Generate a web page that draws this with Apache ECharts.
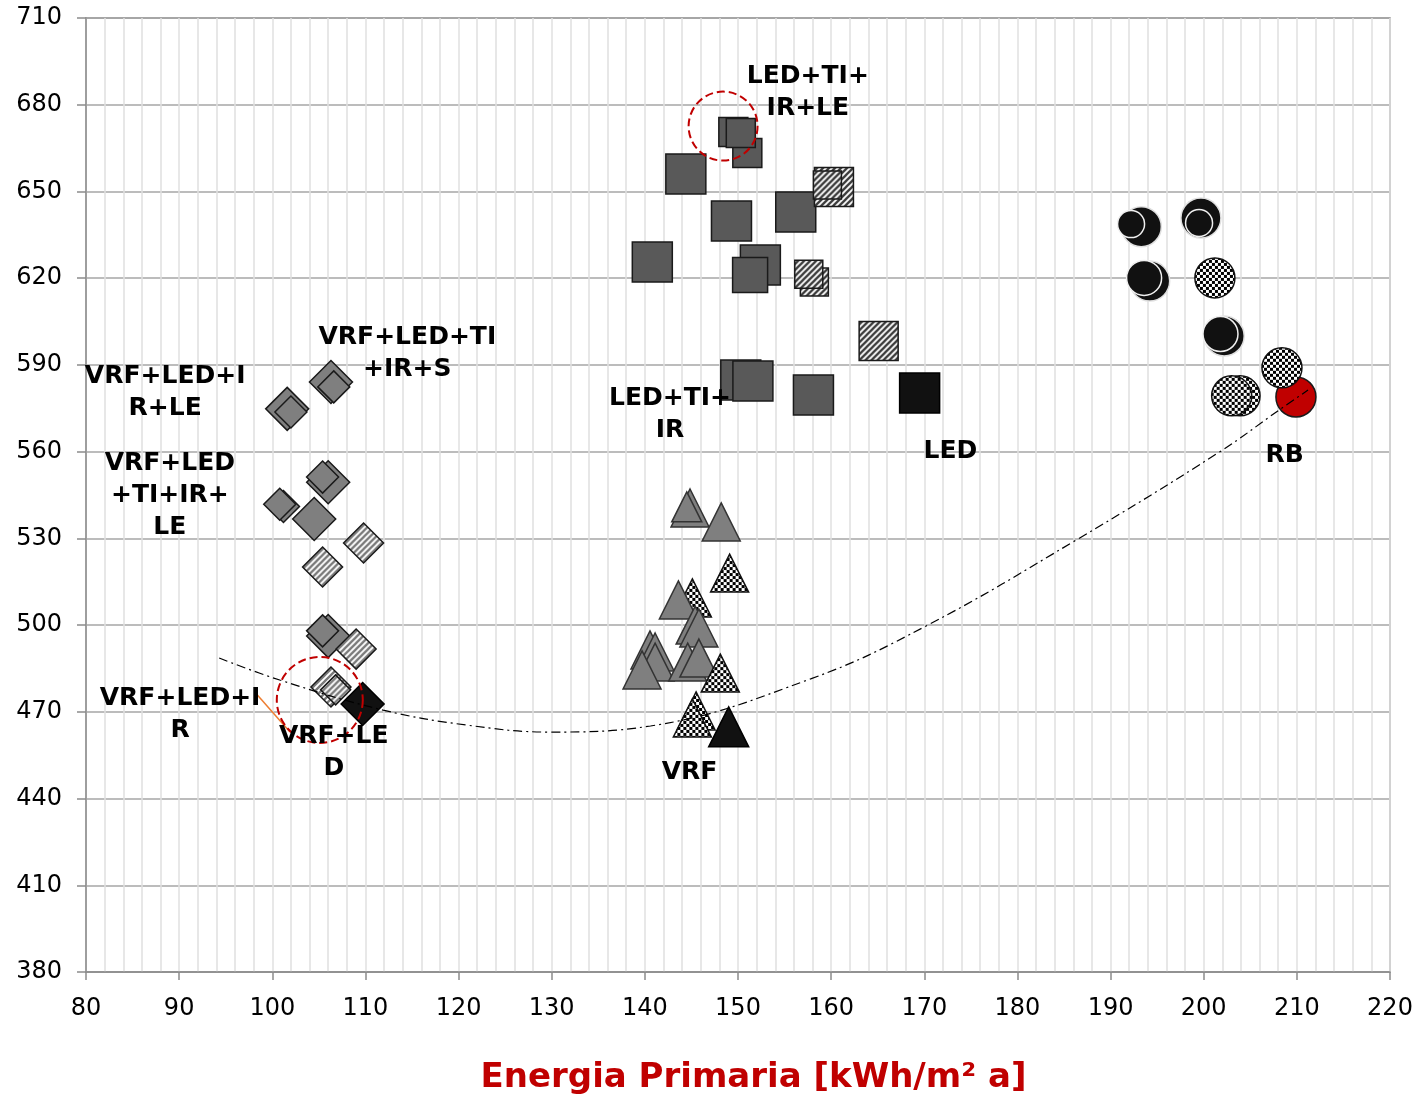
<!DOCTYPE html>
<html>
<head>
<meta charset="utf-8">
<script src="https://cdn.jsdelivr.net/npm/echarts@6/dist/echarts.min.js"></script>
<style>
  html, body { margin: 0; padding: 0; background: #fff; }
  #chart { width: 1426px; height: 1100px; }
</style>
</head>
<body>
<div id="chart"></div>
<script>
// ---- Axis ticks ----
const xTicks = [80, 90, 100, 110, 120, 130, 140, 150, 160, 170, 180, 190, 200, 210, 220];
const yTicks = [380, 410, 440, 470, 500, 530, 560, 590, 620, 650, 680, 710];

// ---- Squares: LED variants [energia primaria, y] ----
const sqDarkSmall = [[151.0, 663.3], [149.5, 670.6], [150.3, 670.2]];
const sqDark = [[144.4, 656.0], [149.3, 639.8], [156.2, 642.9], [140.8, 625.6], [152.4, 624.6], [150.3, 584.8], [151.6, 584.4], [158.1, 579.6]];
const sqDarkMid = [[151.3, 621.1]];
const sqHatch = [[160.3, 651.5], [165.1, 598.3]];
const sqHatchSmall = [[159.6, 652.2], [158.2, 618.7], [157.6, 621.4]];
const sqBlack = [[169.5, 580.3]];

// ---- Diamonds: VRF+LED variants ----
const dmGray = [[106.3, 584.1], [101.6, 574.8], [106.0, 549.4], [104.5, 536.7], [106.0, 496.2]];
const dmGraySmall = [[106.6, 582.4], [102.0, 573.7], [105.4, 551.2], [101.2, 541.0], [100.8, 541.8], [105.4, 498.0]];
const dmHatch = [[109.8, 528.4], [105.4, 520.1], [109.0, 491.7], [106.3, 478.6]];
const dmHatchSmall = [[106.8, 477.6]];
const dmBlack = [[109.7, 472.7]];

// ---- Triangles: VRF variants ----
const triCheckBack = [[145.1, 509.4]];
const triGray = [[144.85, 540.5], [148.2, 535.7], [143.6, 508.7], [145.4, 500.0], [145.8, 499.0], [140.55, 491.4], [141.1, 490.7], [141.1, 487.2], [139.7, 484.5], [144.6, 487.2], [145.8, 488.6]];
const triGraySmall = [[144.5, 540.9]];
const triCheck = [[149.1, 518.0], [148.1, 483.4], [145.5, 470.3], [145.1, 467.9]];
const triBlack = [[149.0, 464.8]];

// ---- Circles: RB variants ----
const ciBlack = [[193.3, 637.8], [199.7, 640.8], [194.2, 619.0], [202.2, 600.0]];
const ciBlackRingSmall = [[192.2, 638.7], [199.5, 639.1]];
const ciBlackRing = [[193.6, 620.1], [201.8, 600.7]];
const ciRed = [[209.9, 578.9]];
const ciCheck = [[201.2, 620.1], [203.9, 579.3], [203.0, 579.3], [208.4, 589.0]];

// ---- Trend curve ----
const trend = [[94.3, 488.6], [100.8, 481.0], [111.9, 470.6], [120.9, 465.4], [129.8, 463.0], [140.6, 465.1], [157.8, 481.4], [170.2, 499.7], [186.3, 529.4], [201.7, 559.9], [208.1, 574.4], [211.2, 581.3]];

// ---- Highlight rings and leader ----
const ringTop = [[148.4, 672.6]];
const ringBottom = [[105.1, 474.1]];
const leader = [[98.4, 475.8], [101.9, 463.0]];

// ---- Group labels ----
const labelTexts = ['LED+TI+\nIR+LE', 'VRF+LED+TI\n+IR+S', 'VRF+LED+I\nR+LE', 'LED+TI+\nIR', 'LED', 'RB', 'VRF+LED\n+TI+IR+\nLE', 'VRF+LED+I\nR', 'VRF+LE\nD', 'VRF'];
const labelX = [157.5, 114.5, 88.5, 142.7, 172.8, 208.7, 89.0, 90.1, 106.6, 144.8];
const labelY = [684.4, 593.8, 580.3, 572.7, 559.9, 558.5, 544.7, 469.0, 455.8, 448.9];

// ---- Fill patterns (symbols are scaled by size/2, so patterns are counter-scaled) ----
function stripeCanvas(fg, size, lw) {
  const c = document.createElement('canvas');
  c.width = size; c.height = size;
  const g = c.getContext('2d');
  g.fillStyle = '#fff'; g.fillRect(0, 0, size, size);
  g.strokeStyle = fg; g.lineWidth = lw;
  g.beginPath();
  for (let k = -1; k <= 1; k++) {
    g.moveTo(k * size - 1, size + 1);
    g.lineTo(k * size + size + 1, -1);
  }
  g.stroke();
  return c;
}
function checkerCanvas(cell) {
  const c = document.createElement('canvas');
  c.width = cell * 2; c.height = cell * 2;
  const g = c.getContext('2d');
  g.fillStyle = '#fff'; g.fillRect(0, 0, cell * 2, cell * 2);
  g.fillStyle = '#000';
  g.fillRect(0, 0, cell, cell);
  g.fillRect(cell, cell, cell, cell);
  return c;
}
const hatchDarkImg = stripeCanvas('#3a3a3a', 6, 2.3);
const hatchGrayImg = stripeCanvas('#7a7a7a', 6, 2.3);
const checkerImg = checkerCanvas(3);

function fillFor(fill, size) {
  if (fill instanceof HTMLCanvasElement) {
    const s = 2 / size;
    return { image: fill, repeat: 'repeat', scaleX: s, scaleY: s };
  }
  return fill;
}

function pts(symbol, data, size, fill, border, bw, dashed) {
  return {
    type: 'scatter', symbol: symbol, symbolSize: size, data: data, z: 2,
    itemStyle: {
      color: fillFor(fill, size), borderColor: border,
      borderWidth: bw === undefined ? 1.5 : bw, opacity: 1,
      borderType: dashed ? [8, 4] : 'solid'
    },
    emphasis: { disabled: true }, silent: true
  };
}

const FONT = 'DejaVu Sans';

const series = [
  // diamonds
  pts('diamond', dmGray, 43, '#7f7f7f', '#1a1a1a'),
  pts('diamond', dmGraySmall, 32, '#7f7f7f', '#1a1a1a'),
  pts('diamond', dmHatch, 40, hatchGrayImg, '#1a1a1a'),
  pts('diamond', dmHatchSmall, 30, hatchGrayImg, '#1a1a1a'),
  pts('diamond', dmBlack, 43, '#111111', '#000'),
  // squares
  pts('rect', sqDarkSmall, 29, '#595959', '#1a1a1a'),
  pts('rect', sqDark, 40, '#595959', '#1a1a1a'),
  pts('rect', sqDarkMid, 35, '#595959', '#1a1a1a'),
  pts('rect', sqHatch, 39, hatchDarkImg, '#1a1a1a'),
  pts('rect', sqHatchSmall, 28, hatchDarkImg, '#1a1a1a'),
  pts('rect', sqBlack, 40, '#111111', '#000'),
  // triangles
  pts('triangle', triCheckBack, 38, checkerImg, '#111'),
  pts('triangle', triGray, 38, '#7f7f7f', '#333'),
  pts('triangle', triGraySmall, 30, '#7f7f7f', '#333'),
  pts('triangle', triCheck, 38, checkerImg, '#111'),
  pts('triangle', triBlack, 40, '#111111', '#000'),
  // circles
  pts('circle', ciBlack, 40, '#111111', '#e0e0e0', 1.5),
  pts('circle', ciBlackRingSmall, 27, '#111111', '#f0f0f0', 1.5),
  pts('circle', ciBlackRing, 35, '#111111', '#f0f0f0', 1.5),
  pts('circle', ciRed, 40, '#c00000', '#1a1a1a'),
  pts('circle', ciCheck, 40, checkerImg, '#111'),
  // trend curve
  {
    type: 'line', data: trend, smooth: 0.4, symbol: 'none', silent: true,
    lineStyle: { color: '#000', width: 1.2, type: [9, 4, 2, 4] }, z: 5
  },
  // highlight rings
  Object.assign(pts('circle', ringTop, 69, 'transparent', '#c00000', 2, true), { z: 5 }),
  Object.assign(pts('circle', ringBottom, 86, 'transparent', '#c00000', 2, true), { z: 5 }),
  {
    type: 'line', data: leader, symbol: 'none', silent: true,
    lineStyle: { color: '#ed7d31', width: 1.5 }, z: 5
  },
  // labels
  {
    type: 'scatter', symbolSize: 1, silent: true, z: 6,
    itemStyle: { color: 'transparent', opacity: 1 },
    data: labelTexts.map((t, i) => ({ name: t, value: [labelX[i], labelY[i]] })),
    label: {
      show: true, position: 'inside', formatter: p => p.name, opacity: 1,
      fontFamily: FONT, fontWeight: 'bold', fontSize: 25, lineHeight: 32,
      color: '#000', textBorderWidth: 0, align: 'center', verticalAlign: 'middle'
    }
  }
];

const chart = echarts.init(document.getElementById('chart'), null, { renderer: 'canvas' });
chart.setOption({
  animation: false,
  backgroundColor: '#fff',
  grid: {
    left: 86, top: 18, right: 36, bottom: 128, show: true,
    borderColor: '#8c8c8c', borderWidth: 1.5, backgroundColor: 'transparent'
  },
  xAxis: {
    type: 'value', min: xTicks[0], max: xTicks[xTicks.length - 1], interval: 10,
    name: 'Energia Primaria [kWh/m² a]', nameLocation: 'middle', nameGap: 89,
    nameTextStyle: {
      fontFamily: FONT, fontWeight: 'bold', fontSize: 34, color: '#c00000',
      padding: [0, 0, 0, 31]
    },
    axisLine: { show: true, lineStyle: { color: '#8c8c8c', width: 1.5 } },
    axisTick: { show: true, inside: false, length: 8, lineStyle: { color: '#8c8c8c', width: 1.5 } },
    axisLabel: { fontFamily: FONT, fontSize: 24, color: '#000', margin: 25 },
    splitLine: { show: true, lineStyle: { color: '#e0e0e0', width: 1.5 } },
    minorTick: { show: false, splitNumber: 5 },
    minorSplitLine: { show: true, lineStyle: { color: '#e0e0e0', width: 1.5 } }
  },
  yAxis: {
    type: 'value', min: yTicks[0], max: yTicks[yTicks.length - 1], interval: 30,
    axisLine: { show: true, lineStyle: { color: '#8c8c8c', width: 1.5 } },
    axisTick: { show: true, inside: false, length: 9, lineStyle: { color: '#8c8c8c', width: 1.5 } },
    axisLabel: { fontFamily: FONT, fontSize: 24, color: '#000', margin: 24 },
    splitLine: { show: true, lineStyle: { color: '#a6a6a6', width: 1.5 } }
  },
  series: series
});
</script>
</body>
</html>
